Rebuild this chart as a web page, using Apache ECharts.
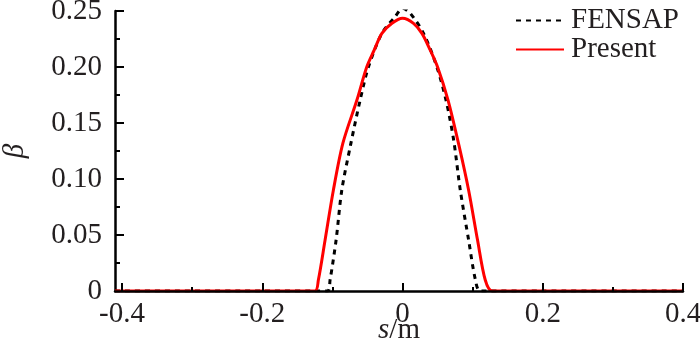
<!DOCTYPE html>
<html>
<head>
<meta charset="utf-8">
<script src="https://cdn.jsdelivr.net/npm/echarts@6/dist/echarts.min.js"></script>
<style>
  html, body { margin: 0; padding: 0; background: #fff; }
  #chart { width: 700px; height: 346px; }
</style>
</head>
<body>
<div id="chart"></div>
<script>
// values (s in m, beta)
const fensapS = [-0.41, -0.2, -0.107, -0.1033, -0.0947, -0.0866, -0.0742, -0.0604, -0.0486, -0.0294, -0.0104, 0, 0.011, 0.03, 0.049, 0.062, 0.0729, 0.0824, 0.0943, 0.104, 0.111, 0.2, 0.4];
const fensapBeta = [0, 0, 0, 0.0098, 0.0455, 0.09, 0.13, 0.1705, 0.2, 0.23, 0.245, 0.2524, 0.248, 0.23, 0.2, 0.1705, 0.135, 0.09, 0.0455, 0.0098, 0, 0, 0];

const presentS = [-0.41, -0.2, -0.125, -0.12, -0.1104, -0.0986, -0.085, -0.065, -0.051, -0.0404, -0.0294, -0.015, 0, 0.0157, 0.0277, 0.0396, 0.05, 0.0649, 0.0805, 0.0943, 0.107, 0.118, 0.128, 0.2, 0.4];
const presentBeta = [0, 0, 0, 0.0098, 0.0455, 0.09, 0.132, 0.1705, 0.2, 0.215, 0.23, 0.239, 0.2435, 0.239, 0.23, 0.215, 0.2, 0.1705, 0.13, 0.09, 0.0455, 0.0098, 0, 0, 0];

const xMajorTicks = [-0.4, -0.2, 0, 0.2, 0.4];
const xMinorTicks = [-0.3, -0.1, 0.1, 0.3];

const textColor = "#231f20";
const font = "Liberation Serif";

const pairs = (xs, ys) => xs.map((x, i) => [x, ys[i]]);

const chart = echarts.init(document.getElementById("chart"));

const option = {
  animation: false,
  grid: { left: 115, right: 17, top: 11, bottom: 55, outerBoundsMode: "none", containLabel: false },
  legend: {
    orient: "vertical",
    left: 510,
    top: 1,
    itemWidth: 48,
    itemHeight: 14,
    itemGap: 0,
    itemStyle: { opacity: 0, borderWidth: 0 },
    textStyle: { fontFamily: font, fontSize: 29, color: textColor, padding: [0, 0, 0, 2] },
    data: ["FENSAP", "Present"],
  },
  xAxis: [
    {
      type: "value",
      min: -0.41,
      max: 0.4,
      name: "{i|s}/m",
      nameLocation: "middle",
      nameGap: 25,
      nameMoveOverlap: false,
      nameTextStyle: {
        fontFamily: font,
        fontSize: 29,
        color: textColor,
        rich: { i: { fontFamily: font, fontSize: 29, fontStyle: "italic", color: textColor } },
      },
      z: 5,
      axisLine: { onZero: false, lineStyle: { color: "#000", width: 2.5 } },
      axisTick: { show: true, inside: true, length: 8, customValues: xMajorTicks, lineStyle: { color: "#000", width: 2 } },
      axisLabel: {
        customValues: xMajorTicks,
        margin: 9,
        fontFamily: font,
        fontSize: 29,
        color: textColor,
        formatter: (v) => (v === 0 ? "0" : String(v)),
      },
      splitLine: { show: false },
    },
    {
      type: "value",
      min: -0.41,
      max: 0.4,
      position: "bottom",
      z: 5,
      axisLine: { show: false, onZero: false },
      axisTick: { show: true, inside: true, length: 4, customValues: xMinorTicks, lineStyle: { color: "#000", width: 2 } },
      axisLabel: { show: false },
      splitLine: { show: false },
    },
  ],
  yAxis: {
    type: "value",
    min: 0,
    max: 0.25,
    interval: 0.05,
    name: "β",
    nameLocation: "middle",
    nameGap: 85,
    nameRotate: 90,
    nameMoveOverlap: false,
    nameTextStyle: { fontFamily: font, fontSize: 29, fontStyle: "italic", color: textColor },
    axisLine: { show: true, onZero: false, lineStyle: { color: "#000", width: 2.5 } },
    axisTick: { inside: true, length: 9, lineStyle: { color: "#000", width: 2 } },
    minorTick: { show: true, splitNumber: 2, length: 5, lineStyle: { color: "#000", width: 2 } },
    axisLabel: {
      margin: 13,
      fontFamily: font,
      fontSize: 29,
      color: textColor,
      formatter: (v) => (v === 0 ? "0" : v.toFixed(2)),
    },
    splitLine: { show: false },
  },
  series: [
    {
      name: "FENSAP",
      type: "line",
      data: pairs(fensapS, fensapBeta),
      showSymbol: false,
      symbol: "none",
      smooth: 0.3,
      z: 2,
      lineStyle: { color: "#000", width: 3, type: [5, 5] },
      itemStyle: { color: "#000" },
    },
    {
      name: "Present",
      type: "line",
      data: pairs(presentS, presentBeta),
      showSymbol: false,
      symbol: "none",
      smooth: 0.3,
      z: 3,
      lineStyle: { color: "#ff0000", width: 3 },
      itemStyle: { color: "#ff0000" },
    },
  ],
};

chart.setOption(option);
</script>
</body>
</html>
